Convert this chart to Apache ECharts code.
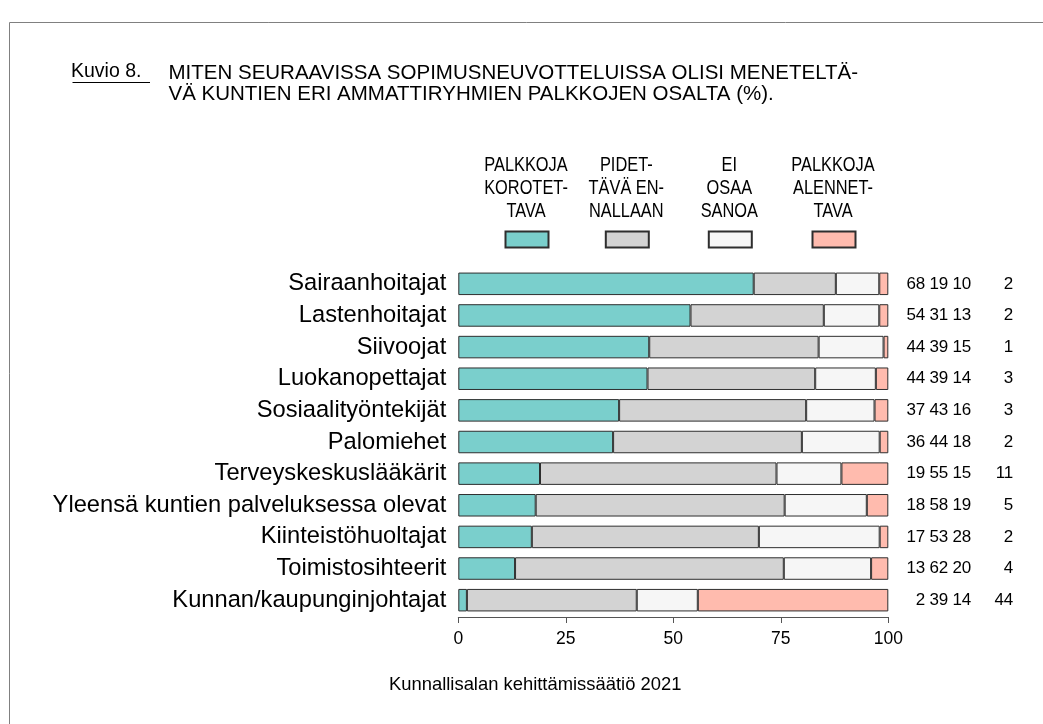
<!DOCTYPE html>
<html>
<head>
<meta charset="utf-8">
<script src="https://cdn.jsdelivr.net/npm/echarts@6/dist/echarts.min.js"></script>
<style>
html,body{margin:0;padding:0;background:#fff;}
#chart{width:1043px;height:724px;}
</style>
</head>
<body>
<div id="chart"></div>
<script>
// ---- data ----
const categories = ['Sairaanhoitajat','Lastenhoitajat','Siivoojat','Luokanopettajat','Sosiaalityöntekijät','Palomiehet','Terveyskeskuslääkärit','Yleensä kuntien palveluksessa olevat','Kiinteistöhuoltajat','Toimistosihteerit','Kunnan/kaupunginjohtajat'];
const seriesNames = ['PALKKOJA\nKOROTET-\nTAVA','PIDET-\nTÄVÄ EN-\nNALLAAN','EI\nOSAA\nSANOA','PALKKOJA\nALENNET-\nTAVA'];
// bar lengths (%)
const korotettava = [68.7, 54.0, 44.4, 44.0, 37.4, 36.0, 19.0, 18.0, 17.1, 13.2, 2.0];
const ennallaan   = [19.1, 31.0, 39.4, 39.0, 43.5, 43.9, 55.0, 57.9, 52.8, 62.5, 39.5];
const eiOsaa      = [10.1, 12.9, 15.1, 14.1, 15.9, 18.1, 15.1, 19.1, 28.1, 20.3, 14.2];
const alennettava = [2.1, 2.1, 1.1, 2.9, 3.2, 2.0, 10.9, 5.0, 2.0, 4.0, 44.3];
// printed numbers on the right
const printKorotettava = [68, 54, 44, 44, 37, 36, 19, 18, 17, 13, 2];
const printEnnallaan   = [19, 31, 39, 39, 43, 44, 55, 58, 53, 62, 39];
const printEiOsaa      = [10, 13, 15, 14, 16, 18, 15, 19, 28, 20, 14];
const printAlennettava = [2, 2, 1, 3, 3, 2, 11, 5, 2, 4, 44];
const xTicks = [0, 25, 50, 75, 100];
const titleKuvio = 'Kuvio 8.';
const titleText = 'MITEN SEURAAVISSA SOPIMUSNEUVOTTELUISSA OLISI MENETELTÄ-\nVÄ KUNTIEN ERI AMMATTIRYHMIEN PALKKOJEN OSALTA (%).';
const footerText = 'Kunnallisalan kehittämissäätiö 2021';

// ---- styling / layout ----
const FONT = '"Liberation Sans", Arial, Helvetica, sans-serif';
const colors = ['#7acfcc', '#d3d3d3', '#f6f6f6', '#ffbbae'];
const legendLefts = [504.5, 604.8, 707.8, 811.5];
const legendW = 43;
const NUMSIZE = 17;

const seriesValues = [korotettava, ennallaan, eiOsaa, alennettava];

const chart = echarts.init(document.getElementById('chart'), null, {renderer: 'canvas'});

const series = seriesValues.map((vals, k) => ({
  name: seriesNames[k],
  type: 'bar',
  stack: 'total',
  barWidth: 22.5,
  data: vals,
  itemStyle: {color: colors[k], borderColor: '#2e2e2e', borderWidth: 1},
  emphasis: {disabled: true}
}));

const legends = seriesNames.map((n, k) => ({
  data: [n],
  left: legendLefts[k],
  top: 230.5,
  padding: 0,
  itemWidth: legendW,
  itemHeight: 16,
  icon: 'rect',
  selectedMode: false,
  formatter: () => '',
  textStyle: {fontSize: 1}
}));

const legendTexts = seriesNames.map((n, k) => ({
  type: 'text',
  x: legendLefts[k] + legendW / 2,
  y: 154.5,
  scaleX: 0.84,
  style: {
    text: n,
    font: '19.5px ' + FONT,
    fill: '#000',
    align: 'center', textAlign: 'center',
    verticalAlign: 'top', textVerticalAlign: 'top',
    lineHeight: 23
  }
}));

const numStyle = {fontFamily: FONT, fontSize: NUMSIZE, color: '#000', align: 'right'};

const option = {
  animation: false,
  backgroundColor: '#fff',
  title: [
    {text: titleKuvio, left: 71, top: 61.5, padding: 0,
     textStyle: {fontFamily: FONT, fontWeight: 'normal', fontSize: 19.5, color: '#000', lineHeight: 20}},
    {text: titleText, left: 168.5, top: 62.4, padding: 0,
     textStyle: {fontFamily: FONT, fontWeight: 'normal', fontSize: 20.5, color: '#000', lineHeight: 21}},
    {text: footerText, left: 389, top: 675.8, padding: 0,
     textStyle: {fontFamily: FONT, fontWeight: 'normal', fontSize: 18.4, color: '#000', lineHeight: 18.4}}
  ],
  legend: legends,
  graphic: [
    {type: 'rect', shape: {x: 9.5, y: 22.5, width: 1200, height: 900},
     style: {fill: 'none', stroke: '#808080', lineWidth: 1}, silent: true},
    {type: 'line', shape: {x1: 72.5, y1: 82.5, x2: 150, y2: 82.5},
     style: {stroke: '#000', lineWidth: 1}, silent: true}
  ].concat(legendTexts),
  grid: {left: 458.3, right: 154.7, top: 268, height: 348, containLabel: false},
  xAxis: {
    type: 'value', min: xTicks[0], max: xTicks[xTicks.length - 1], interval: 25,
    offset: 1,
    axisLine: {show: true, lineStyle: {color: '#555', width: 1}},
    axisTick: {show: true, length: 6, lineStyle: {color: '#555'}},
    splitLine: {show: false},
    axisLabel: {fontFamily: FONT, fontSize: 17.5, color: '#000', margin: 13,
      formatter: v => xTicks.includes(v) ? String(v) : ''}
  },
  yAxis: [
    {
      type: 'category', inverse: true, data: categories,
      axisLine: {show: false}, axisTick: {show: false}, splitLine: {show: false},
      axisLabel: {fontFamily: FONT, fontSize: 23.7, color: '#000', margin: 12}
    },
    {
      type: 'category', inverse: true, data: categories, position: 'right',
      axisLine: {show: false}, axisTick: {show: false}, splitLine: {show: false},
      axisLabel: {
        margin: 10, align: 'left',
        fontFamily: FONT, fontSize: NUMSIZE, color: '#000',
        formatter: (v, i) => `{a|${printKorotettava[i]}}{b|${printEnnallaan[i]}}{c|${printEiOsaa[i]}}{d|${printAlennettava[i]}}`,
        rich: {
          a: Object.assign({width: 27}, numStyle),
          b: Object.assign({width: 23}, numStyle),
          c: Object.assign({width: 23}, numStyle),
          d: Object.assign({width: 42}, numStyle)
        }
      }
    }
  ],
  series: series
};

chart.setOption(option);
</script>
</body>
</html>
